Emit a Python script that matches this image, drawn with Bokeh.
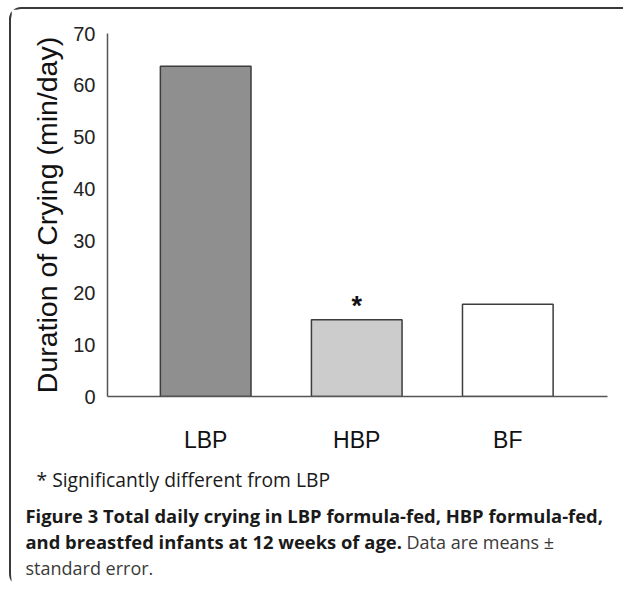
from bokeh.plotting import figure
from bokeh.layouts import column, row
from bokeh.models import Range1d, FixedTicker, ColumnDataSource
from bokeh.embed import file_html
from bokeh.resources import INLINE
from bokeh.core.properties import value

# ---- data ----
categories = ["LBP", "HBP", "BF"]
crying_min_per_day = [63.7, 14.8, 17.8]
bar_colors = ["#8f8f8f", "#cccccc", "#ffffff"]
significance = ["", "*", ""]
y_ticks = [0, 10, 20, 30, 40, 50, 60, 70]

y_axis_label = "Duration of Crying (min/day)"
note_text = "* Significantly different from LBP"
caption_bold_1 = "Figure 3 Total daily crying in LBP formula-fed, HBP formula-fed,"
caption_bold_2 = "and breastfed infants at 12 weeks of age."
caption_norm_2 = "Data are means \u00b1"
caption_norm_3 = "standard error."

W = 612
H1 = 452                      # chart part
H2 = 125                      # caption part
FL, FR, FT, FB = 96, 596, 24, 387
X0, X1 = -0.65, len(categories) - 1 + 0.66

xpos = list(range(len(categories)))
src = ColumnDataSource(dict(x=xpos, y=crying_min_per_day, c=bar_colors, s=significance))

p = figure(width=W, height=H1, output_backend="svg", toolbar_location=None,
           x_range=Range1d(X0, X1), y_range=Range1d(0, 70),
           min_border_left=FL, min_border_right=W - FR,
           min_border_top=FT, min_border_bottom=H1 - FB)
p.outline_line_color = None
p.grid.visible = False

p.vbar(x="x", top="y", width=0.6, bottom=0, source=src,
       fill_color="c", line_color="#3c3c3c", line_width=1.5)
p.text(x="x", y="y", text="s", source=src, text_align="center",
       text_baseline="bottom", y_offset=1,
       text_font=value("Liberation Sans"), text_font_size="27px",
       text_font_style="bold", text_color="#111111")

p.yaxis.ticker = FixedTicker(ticks=y_ticks)
p.yaxis.axis_label = y_axis_label
p.yaxis.axis_label_text_font = "Liberation Sans"
p.yaxis.axis_label_text_font_size = "28.5px"
p.yaxis.axis_label_text_font_style = "normal"
p.yaxis.axis_label_text_color = "#111111"
p.yaxis.axis_label_standoff = 7
p.yaxis.major_label_text_font = "Liberation Sans"
p.yaxis.major_label_text_font_size = "20px"
p.yaxis.major_label_text_color = "#222222"
p.yaxis.major_label_standoff = 6

p.xaxis.ticker = FixedTicker(ticks=xpos)
p.xaxis.major_label_overrides = {i: c for i, c in zip(xpos, categories)}
p.xaxis.major_label_text_font = "Liberation Sans"
p.xaxis.major_label_text_font_size = "23px"
p.xaxis.major_label_text_color = "#111111"
p.xaxis.major_label_standoff = 24

for ax in (p.xaxis, p.yaxis):
    ax.major_tick_line_color = None
    ax.minor_tick_line_color = None
    ax.axis_line_color = "#555555"
    ax.axis_line_width = 1.5

# ---- caption panel ----
pc = figure(width=W, height=H2, output_backend="svg", toolbar_location=None,
            x_range=Range1d(0, W), y_range=Range1d(H2, 0),
            x_axis_type=None, y_axis_type=None,
            min_border_left=0, min_border_right=0, min_border_top=0, min_border_bottom=0)
pc.outline_line_color = None
pc.grid.visible = False

cap_font = value("Open Sans")
pc.text(x=[25], y=[18], text=[note_text], text_font=cap_font, text_font_size="19.3px",
        text_baseline="middle", text_color="#1a1a1a")
pc.text(x=[14, 14], y=[54, 80], text=[caption_bold_1, caption_bold_2], text_font=cap_font,
        text_font_size="18.4px", text_font_style="bold", text_baseline="middle",
        text_color="#1a1a1a")
pc.text(x=[395, 14], y=[80, 106], text=[caption_norm_2, caption_norm_3], text_font=cap_font,
        text_font_size="18px", text_baseline="middle", text_color="#3a3a3a")

layout = column(p, row(pc), styles={"margin-left": "9px", "margin-top": "7px",
                                    "border-left": "2px solid #3a3a3a",
                                    "border-top": "2px solid #3a3a3a",
                                    "border-top-left-radius": "12px",
                                    "border-bottom-left-radius": "12px"})

open("out.html", "w").write(file_html(layout, INLINE))
